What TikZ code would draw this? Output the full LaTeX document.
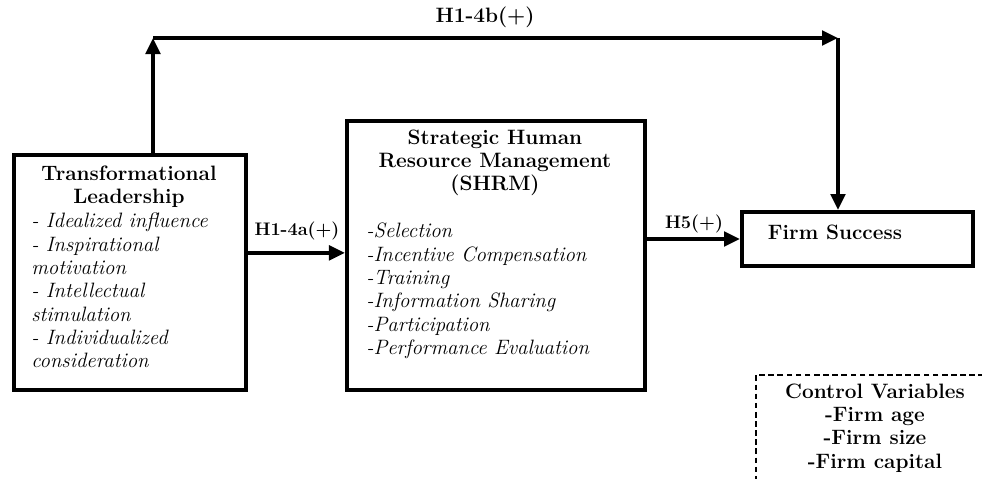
\documentclass[tikz,border=0pt]{standalone}
\usetikzlibrary{arrows.meta}

\newcommand{\diagsize}{\fontsize{14.8}{16.6}\selectfont}

\tikzset{
  box/.style={draw, line width=2.8pt, inner sep=0pt},
  ctrlbox/.style={draw, dash pattern=on 4pt off 2.5pt, line width=1.6pt, inner sep=0pt},
  title/.style={font=\diagsize\bfseries, align=center, inner sep=0pt},
  items/.style={font=\diagsize\itshape, align=left, anchor=north west, inner sep=0pt},
  hyp/.style={font=\fontsize{12.9}{15}\selectfont\bfseries, inner sep=0pt},
  link/.style={line width=2.6pt, -{Triangle[length=4mm,width=3.6mm]}}
}

\begin{document}
\begin{tikzpicture}[x=0.025cm, y=-0.025cm]
  \useasboundingbox (0,0) rectangle (982,479);
  % boxes
  \node[box, minimum width=5.8cm, minimum height=5.875cm] (tl) at (130,272.5) {};
  \node[box, minimum width=7.45cm, minimum height=6.725cm] (shrm) at (496,255.5) {};
  \node[box, minimum width=5.775cm, minimum height=1.35cm] (fs) at (857.5,239) {};
  \node[ctrlbox, minimum width=6.2cm, minimum height=3.125cm] (ctrl) at (880,437.5) {};
  % transformational leadership
  \node[title] (tltitle) at (129,187) {Transformational\\Leadership};
  \node[items] (tlitems) at (31,213) {- Idealized influence\\- Inspirational\\motivation\\- Intellectual\\stimulation\\- Individualized\\consideration};
  % SHRM
  \node[title] (shrmtitle) at (495,163) {Strategic Human\\Resource Management\\(SHRM)};
  \node[items] (shrmitems) at (366,223) {-Selection\\-Incentive Compensation\\-Training\\-Information Sharing\\-Participation\\-Performance Evaluation};
  % firm success
  \node[title] (fstitle) at (835,232) {Firm Success};
  % control variables
  \node[title] (ctrltitle) at (875,428) {Control Variables\\-Firm age\\-Firm size\\-Firm capital};
  % hypotheses
  \coordinate (topleft) at (153,38);
  \coordinate (topright) at (838,38);
  \draw[link] ([yshift=0.49cm]tl.east) -- ([yshift=0.49cm]tl.east -| shrm.west);
  \draw[link] (shrm.east |- fs.west) -- (fs.west);
  \draw[link] (tl.north -| topleft) -- (topleft);
  \draw[link] (topleft) -- (topright);
  \draw[link] (topright) -- (topright |- fs.north);
  \node[hyp] (h4a) at (297,231) {H1-4a(+)};
  \node[hyp] (h5) at (694,224) {H5(+)};
  \node[hyp, font=\diagsize\bfseries] (h4b) at (485,17) {H1-4b(+)};
\end{tikzpicture}
\end{document}
